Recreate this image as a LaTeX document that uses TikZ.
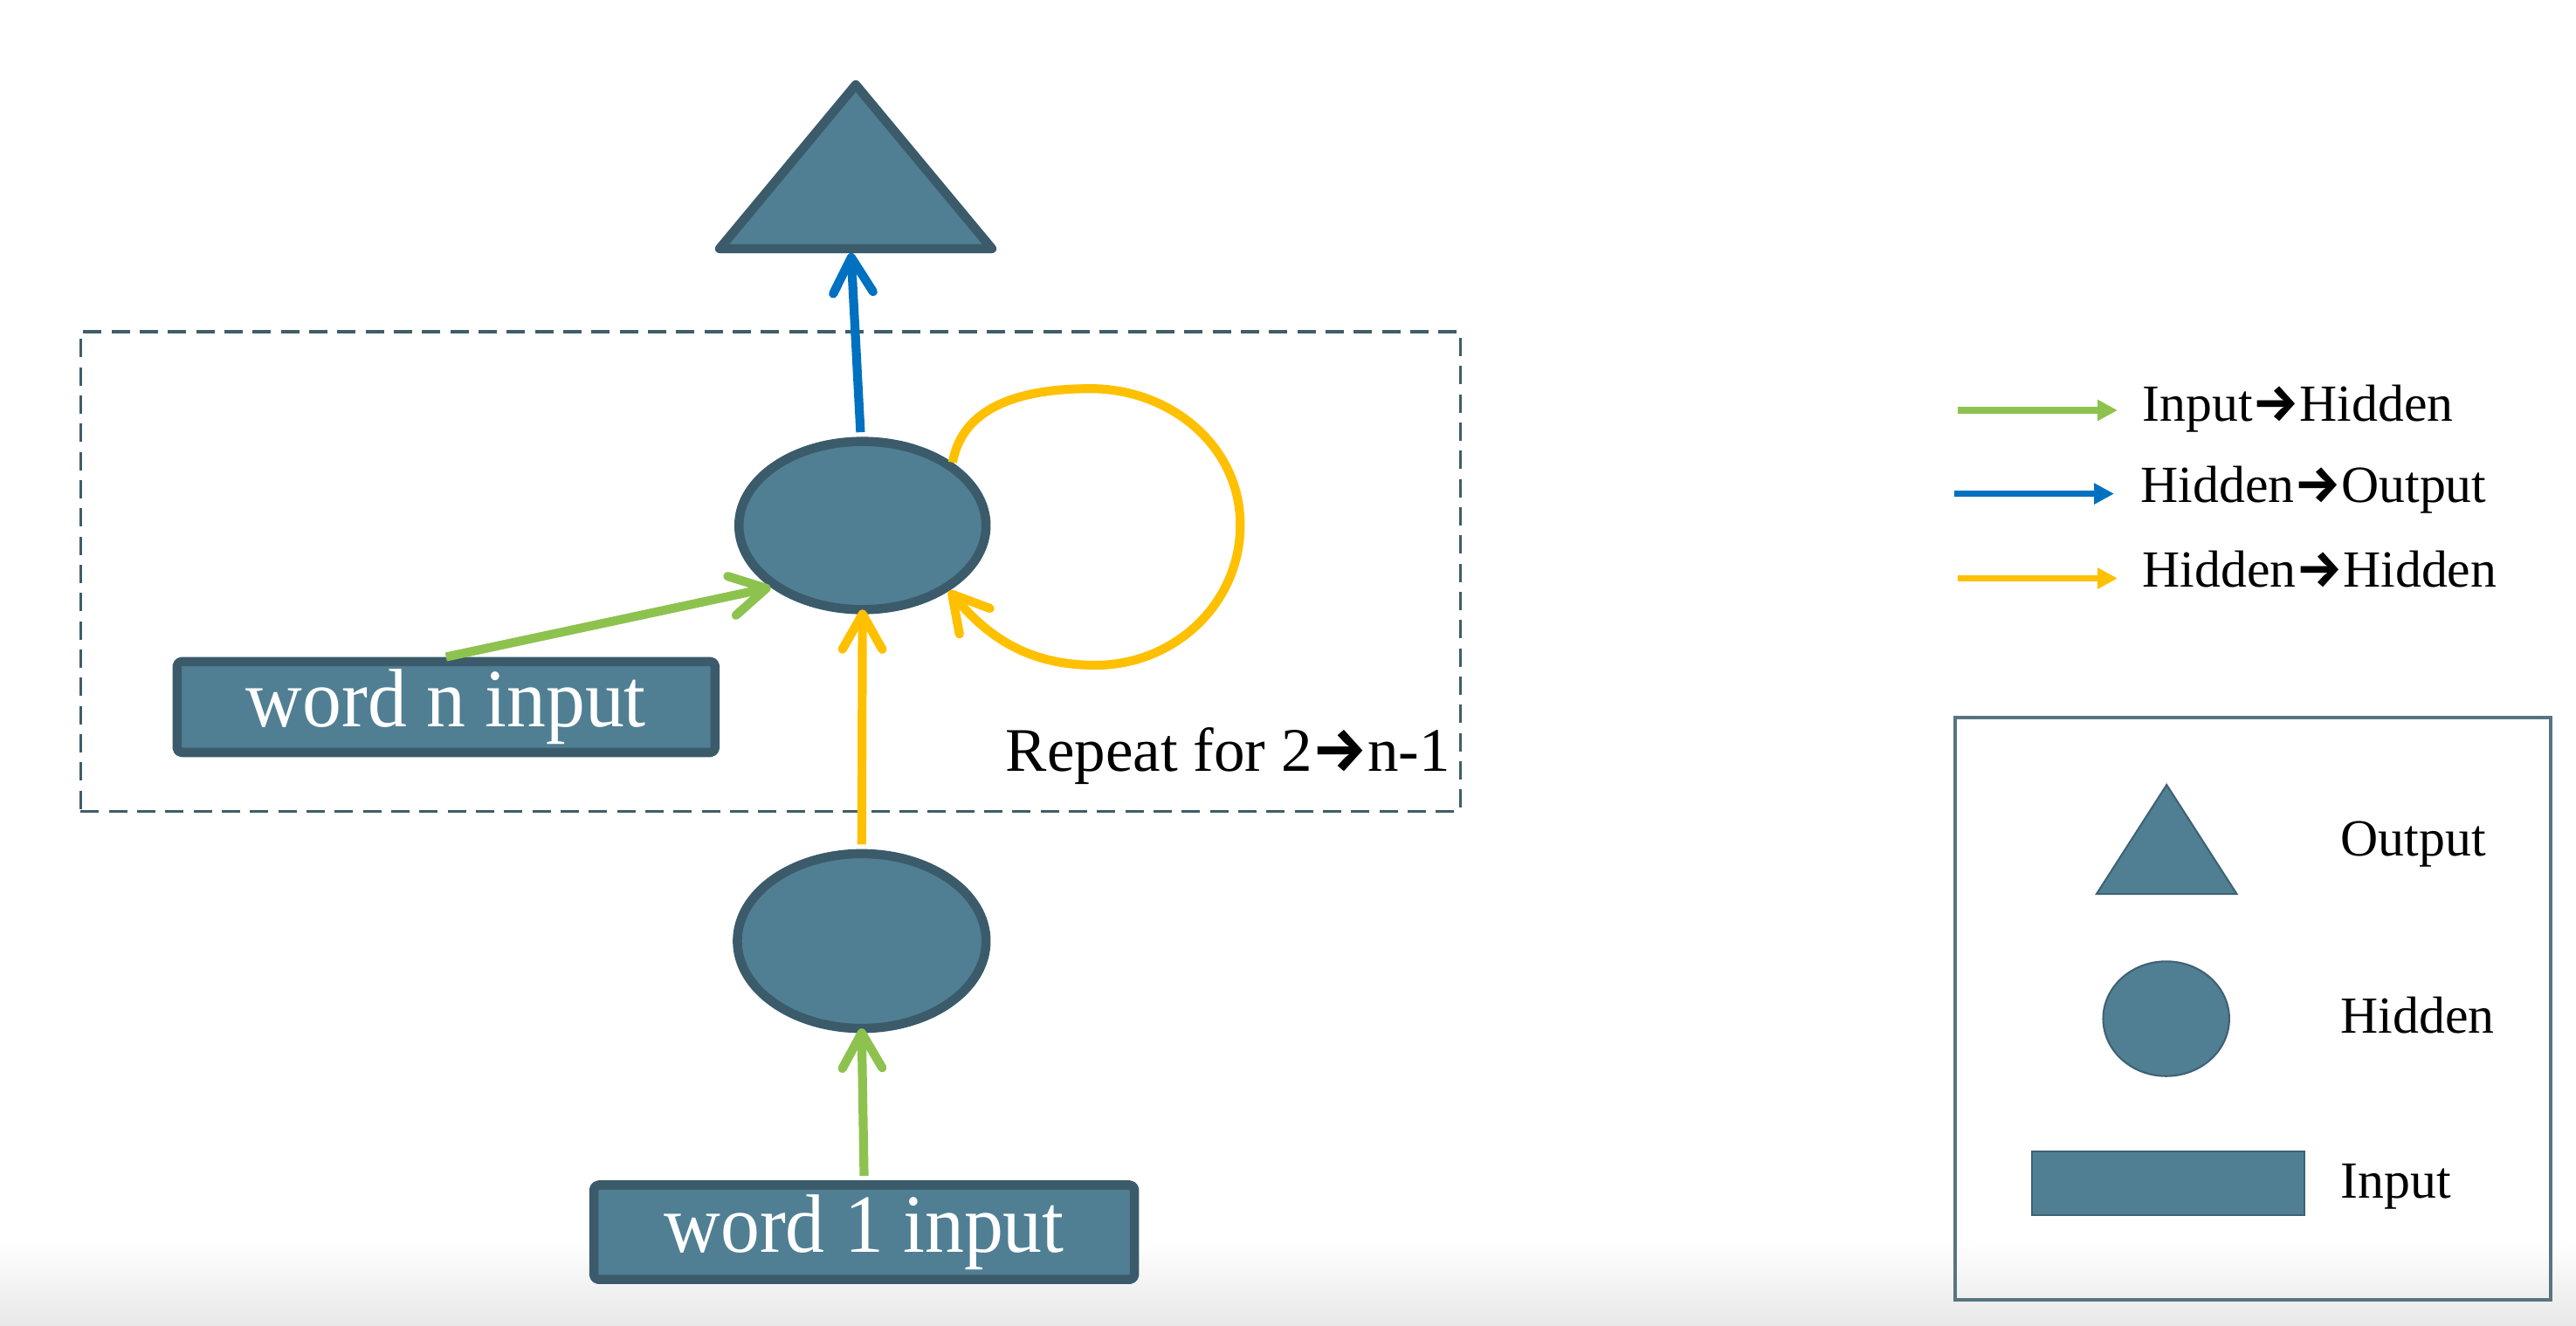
\documentclass[tikz,border=0pt]{standalone}
\usepackage{fontspec}
\setmainfont{Liberation Serif}
\newfontfamily\arrowfont{Fira Sans}
\newfontfamily\condfont{Liberation Serif}[FakeStretch=0.945]
\usetikzlibrary{arrows.meta,calc,shapes.geometric}
\newcommand{\rarr}{{\arrowfont\bfseries →}}
\definecolor{tealfill}{RGB}{80,127,148}
\definecolor{tealdark}{RGB}{59,91,107}
\definecolor{ingreen}{RGB}{142,194,78}
\definecolor{outblue}{RGB}{0,112,192}
\definecolor{hidyellow}{RGB}{255,192,0}
\definecolor{dashcol}{RGB}{63,94,104}
\tikzset{
  shapefill/.style={fill=tealfill, draw=tealdark, line width=3pt, line join=round},
  hid/.style={shapefill, ellipse, inner sep=0pt},
  inbox/.style={shapefill, rectangle, rounded corners=1.5pt, inner sep=0pt, text=white,
                font=\condfont\fontsize{27}{32}\selectfont},
  conn/.style={line width=2.9pt, -{Straight Barb[length=11.5pt, width=13pt, round]}},
  legarr/.style={line width=2pt, -{Triangle[length=6.5pt, width=6.5pt]}},
  legtxt/.style={font=\fontsize{17}{20}\selectfont, anchor=base west, inner sep=0pt},
  legshape/.style={fill=tealfill, draw=tealdark!80!tealfill, line width=0.6pt},
  dashbox/.style={draw=dashcol, line width=0.9pt, dash pattern=on 6pt off 3.2pt, inner sep=0pt}
}
\begin{document}
\begin{tikzpicture}
\useasboundingbox (0,0) rectangle (29.5,-15.18);
\shade[top color=white, bottom color={rgb,255:red,232;green,232;blue,232}] (0,-14.2) rectangle (29.5,-15.18);

% repeat box
\node[dashbox, minimum width=15.804cm, minimum height=5.494cm] (rep) at (8.824,-6.547) {};
\node[font=\fontsize{20.2}{24}\selectfont, anchor=base west, inner sep=0pt] (reptxt) at (11.51,-8.836) {Repeat for 2\rarr n-1};

% output triangle
\node[minimum width=3.105cm, minimum height=1.863cm, inner sep=0pt] (outp) at (9.80,-1.910) {};
\draw[shapefill] (outp.south west) -- (outp.north) -- (outp.south east) -- cycle;

% hidden nodes
\node[hid, minimum width=2.830cm, minimum height=1.927cm] (h2) at (9.877,-6.020) {};
\node[hid, minimum width=2.848cm, minimum height=2.002cm] (h1) at (9.868,-10.780) {};

% inputs
\node[inbox, minimum width=6.160cm, minimum height=1.042cm] (wn) at (5.108,-8.099) {word n input};
\node[inbox, minimum width=6.190cm, minimum height=1.082cm] (w1) at (9.896,-14.116) {word 1 input};

% connectors
\draw[conn, outblue, shorten <=1.5pt] ([xshift=-0.02cm]h2.north) -- ([xshift=-0.054cm,yshift=-0.05cm]outp.south);
\draw[conn, ingreen] (wn.north) -- (h2.214);
\draw[conn, hidyellow, shorten <=1.5pt, shorten >=-1.5pt] (h1.north) -- (h2.south);
\draw[conn, ingreen, shorten <=1.5pt, shorten >=-1.5pt] (w1.north) -- (h1.south);
\coordinate (lt) at (12.49,-4.452);
\coordinate (lr) at (14.203,-6.013);
\coordinate (lb) at (12.546,-7.620);
\draw[conn, hidyellow] (h2.35) to[out=80, in=180] (lt) to[out=0, in=90] (lr)
   to[out=-90, in=0] (lb) to[out=180, in=-50] (h2.-37);

% legend arrows
\coordinate (ga) at (22.42,-4.70);  \coordinate (gb) at (24.25,-4.70);
\coordinate (ba) at (22.38,-5.656); \coordinate (bb) at (24.21,-5.656);
\coordinate (ya) at (22.42,-6.625); \coordinate (yb) at (24.25,-6.625);
\draw[legarr, ingreen] (ga) -- (gb);
\draw[legarr, outblue] (ba) -- (bb);
\draw[legarr, hidyellow] (ya) -- (yb);
\node[legtxt] (lt1) at (24.53,-4.82) {Input\rarr Hidden};
\node[legtxt] (lt2) at (24.51,-5.756) {Hidden\rarr Output};
\node[legtxt] (lt3) at (24.53,-6.726) {Hidden\rarr Hidden};

% legend box
\node[draw=tealdark!85!white, line width=0.9pt, minimum width=6.82cm, minimum height=6.67cm, inner sep=0pt] (legbox) at (25.80,-11.555) {};
\node[minimum width=1.592cm, minimum height=1.236cm, inner sep=0pt] (ltri) at (24.812,-9.616) {};
\draw[legshape] (ltri.south west) -- (ltri.north) -- (ltri.south east) -- cycle;
\node[legshape, ellipse, minimum width=1.444cm, minimum height=1.314cm, inner sep=0pt] (lell) at (24.807,-11.67) {};
\node[legshape, rectangle, minimum width=3.12cm, minimum height=0.728cm, inner sep=0pt] (lrect) at (24.83,-13.552) {};
\node[legtxt] (lo) at (26.80,-9.80) {Output};
\node[legtxt] (lh) at (26.80,-11.837) {Hidden};
\node[legtxt] (li) at (26.80,-13.723) {Input};
\end{tikzpicture}
\end{document}
